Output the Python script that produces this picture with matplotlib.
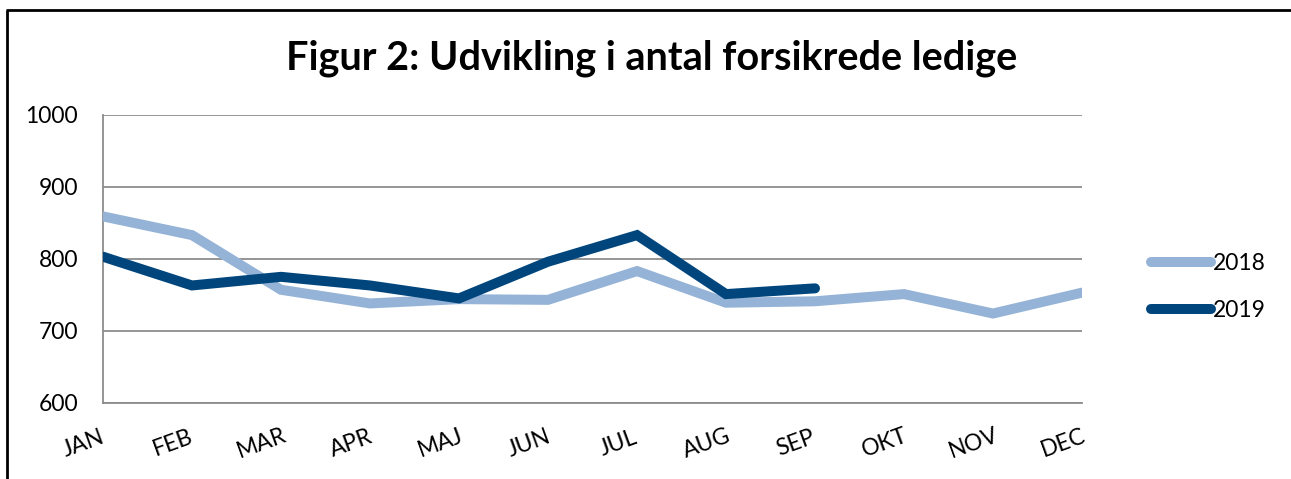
import matplotlib
matplotlib.use("Agg")
import matplotlib.pyplot as plt
from matplotlib.lines import Line2D
from matplotlib.transforms import ScaledTranslation

plt.rcParams['font.family'] = ['Lato', 'DejaVu Sans']

months = ["JAN", "FEB", "MAR", "APR", "MAJ", "JUN", "JUL", "AUG", "SEP", "OKT", "NOV", "DEC"]
values_2018 = [859, 833, 757, 738, 744, 743, 783, 739, 741, 751, 724, 753]
values_2019 = [803, 763, 775, 763, 745, 796, 833, 751, 759]
yticks = [600, 700, 800, 900, 1000]

W, H = 1291, 479
fig = plt.figure(figsize=(W / 100, H / 100), dpi=100)
ax = fig.add_axes([103 / W, 1 - 402.7 / H, (1082 - 103) / W, (402.7 - 115) / H])

c18 = "#95B3D7"
c19 = "#00457C"
x18 = list(range(len(values_2018)))
x19 = list(range(len(values_2019)))
ax.plot(x18, values_2018, color=c18, lw=7.2, solid_capstyle='round', solid_joinstyle='miter', label="2018", zorder=3)
ax.plot(x19, values_2019, color=c19, lw=7.2, solid_capstyle='round', solid_joinstyle='miter', label="2019", zorder=4)

ax.set_xlim(0, len(months) - 1)
ax.set_ylim(600, 1000)
ax.set_yticks(yticks)
ax.set_yticklabels([str(v) for v in yticks], fontsize=16.5)
ax.grid(axis='y', color='#8c8c8c', lw=1.3)
ax.set_axisbelow(True)
ax.tick_params(axis='y', length=0, pad=18)
ax.tick_params(axis='x', length=0, pad=14)
for s in ['top', 'right']:
    ax.spines[s].set_visible(False)
for s in ['left', 'bottom']:
    ax.spines[s].set_color('#8c8c8c')
    ax.spines[s].set_linewidth(1.3)

ax.set_xticks(range(len(months)))
ax.set_xticklabels(months, rotation=20, fontsize=16.5, ha='center', va='center')
for lab in ax.get_xticklabels():
    lab.set_transform(lab.get_transform() + ScaledTranslation(-0.19, -0.21, fig.dpi_scale_trans))

fig.text(0.505, 1 - 58 / H, "Figur 2: Udvikling i antal forsikrede ledige",
         ha='center', va='center', fontsize=28.5, fontweight='bold')

leg = fig.legend(loc='upper left', bbox_to_anchor=(1151 / W, 1 - 253 / H), frameon=False,
                 fontsize=16.5, handlelength=2.6, handletextpad=0.1, labelspacing=1.12,
                 borderaxespad=0, borderpad=0)

border = dict(color='black', lw=2, solid_capstyle='butt')
fig.add_artist(Line2D([6.5 / W, 6.5 / W], [0, 1 - 9.5 / H], transform=fig.transFigure, **border))
fig.add_artist(Line2D([5.5 / W, 1], [1 - 9.5 / H, 1 - 9.5 / H], transform=fig.transFigure, **border))

fig.savefig("out.png", dpi=100)
